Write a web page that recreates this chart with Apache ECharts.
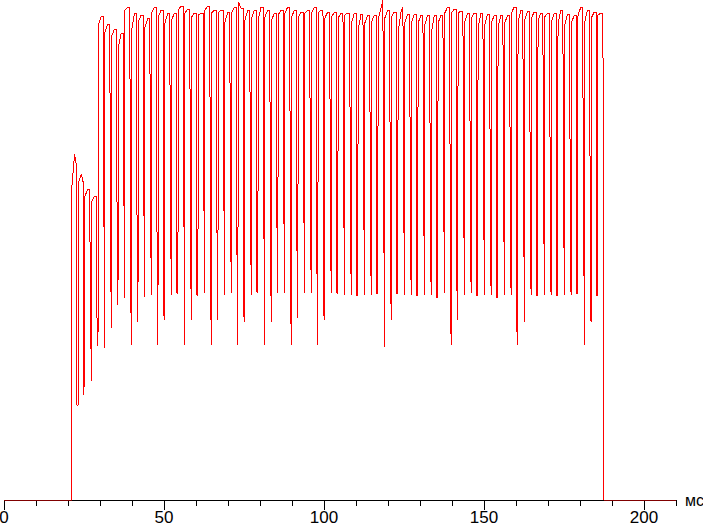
<!DOCTYPE html>
<html><head><meta charset="utf-8">
<script src="https://cdn.jsdelivr.net/npm/echarts@6/dist/echarts.min.js"></script>
<style>html,body{margin:0;padding:0;background:#fff}#c{width:703px;height:528px}#c path{shape-rendering:crispEdges}</style>
</head><body><div id="c"></div><script>
// Timing of the pulse train (ms)
const startMs = 21.15;     // first rise
const periodMs = 2.082;    // pulse period
const axisMaxMs = 210;
const xMajorTicks = [0, 50, 100, 150, 200];
// Per-cycle brightness levels (% of full scale)
const riseLevel = [
 62.2,63.4,60.8,59.6,95,93.6,92.8,90.4,98,94,
 95.6,94.6,97.4,96.6,95.4,96,98,97.4,96.6,97,
 98,97.4,97.4,95.6,97.4,99.6,96,96.4,96,96.6,
 96,97,97.4,96.6,96.4,97.4,97.4,97.4,96.4,96.6,
 96.4,97,95.4,94,95.4,95.6,96,96.4,96.6,93.6,
 95.4,95.4,95.4,95,93.6,95.4,97.4,97.4,97.4,95.6,
 96.4,94.4,95,95.4,94.6,95.4,97.4,95.6,96,96.4,
 96,96.6,95.6,95.4,95,95.4,97,95.6,96.4,97];
const peakLevel = [
 69.2,65.2,62.2,60.8,96.8,95.2,94.2,93.4,98.6,97.4,
 97,96.4,98.6,98,97.4,97.4,98.8,98.2,97.4,97.4,
 98.8,98,98,97.6,98.6,98.4,98,98,98.6,98,
 97.4,98,98.6,98,97.6,98,98.6,98,97.6,97.6,
 97.4,97.4,97.4,97.2,97,97,98.4,98,97.6,97.6,
 97.2,97.2,97,97,97,97,98.6,98.2,97.8,97.4,
 97.4,97.4,97.2,97,97,97,98.6,98,97.8,97.6,
 97.4,97.4,97.4,98,97.2,97,98.6,98,97.6,97.4];
const holdLevel = [
 66.8,63.6,62.2,60.8,96.8,95.2,94.2,93.4,98.6,97.4,
 97,96.4,98.6,98,97.4,97.4,98.8,98.2,97.4,97.4,
 98.8,98,98,97.6,98.6,98.4,98,98,98.6,98,
 97.4,98,98.6,98,97.6,98,98.6,98,97.6,97.6,
 97.4,97.4,97.4,97.2,97,97,100,98,97.6,98.6,
 97.2,97.2,97,97,97,97,98.6,98.2,97.8,97.4,
 97.4,97.4,97.2,97,97,97,98.6,98,97.8,97.6,
 97.4,97.4,97.4,98,97.2,97,98.6,98,97.6,97.4];
const dip1Level = [
 19,55.4,52,40,79,83,85,85,86.4,86,
 88.4,87.4,86,85.4,85.6,41.4,80.6,86.4,41,89,
 86.6,86,89.6,87.6,86,85.6,86.4,41.6,80.4,86.4,
 89.4,88,87,86,89.4,87.4,86,85.4,88,41.4,
 87.4,86,41,88.6,85.6,41.4,80.4,86.4,41.4,87.4,
 86,41,88.6,85.4,40.6,88,86.6,86,89.4,86.4,
 41,89,85.6,40.6,88.6,87.4,86,85,86.4,41,
 87.4,86,41,88.6,85.4,41.4,80.4,86.4,41,88.4];
const dip2Level = [
 19,21,37.6,33.6,56.6,51,40,60.6,45.6,37,
 59,58.6,32.4,37,59.4,41.4,58.4,52.6,41,61,
 45.6,37,61.6,59,32.4,37,59.4,41.6,58.4,52.6,
 42,59.4,45.6,37,60,59,32.4,37,59.4,41.4,
 60,59,41,59.6,58.6,41.4,58.4,52.6,41.4,60,
 58.6,41,59.6,58.6,40.6,61.4,45.6,37,60,59.4,
 41,60,58.6,40.6,59.6,58.6,32.4,59,59,41,
 60,58.6,41,59.6,58.6,41.4,58.4,52.4,41,0];
const lowLevel = [
 19,21,23.8,30.8,30.4,34.4,39,40.4,31,35.6,
 40.6,41,31,36,41,41.4,31,36,41,41.4,
 31,36,41,41.4,31,35.6,41,41.6,31,35.6,
 41.4,41.4,31,36.4,41.4,41.4,31,36,41.4,41.4,
 41,41,41,41,41,41.4,30.6,36,41.4,41,
 41,41,41,41,40.6,41.4,31,36,41,41.4,
 41,41,41,40.6,41,41,31,35.6,41,41,
 41,41,41,41,41,41.4,31,35.6,41,0];

const pts = [[0, 0], [startMs, 0]];
for (let k = 0; k < riseLevel.length; k++) {
  const t = startMs + k * periodMs;
  pts.push([t, riseLevel[k]]);
  pts.push([t + 0.9, peakLevel[k]]);
  pts.push([t + 1.5, holdLevel[k]]);
  pts.push([t + 1.56, dip1Level[k]]);
  pts.push([t + 1.76, dip2Level[k]]);
  pts.push([t + 1.98, lowLevel[k]]);
}
pts.push([axisMaxMs, 0]);

const chart = echarts.init(document.getElementById('c'), null, {renderer: 'svg'});
const font = 'Liberation Sans, Arial, sans-serif';
chart.setOption({
  animation: false,
  backgroundColor: '#fff',
  grid: [
    {left: 4, width: 672, top: 0, height: 500, containLabel: false, outerBoundsMode: 'none'},
    {left: 4, width: 640, top: 0, height: 500, containLabel: false, outerBoundsMode: 'none'}
  ],
  xAxis: [
    {gridIndex: 0, type: 'value', min: 0, max: axisMaxMs, interval: 10,
     axisLine: {show: true, lineStyle: {color: '#000', width: 1}},
     axisTick: {show: true, length: 6, lineStyle: {color: '#000'}},
     axisLabel: {show: false}, splitLine: {show: false},
     name: 'мс', nameLocation: 'end', nameGap: 9,
     nameTextStyle: {fontSize: 16, color: '#000', fontFamily: font, verticalAlign: 'middle'}},
    {gridIndex: 1, type: 'value', min: xMajorTicks[0], max: xMajorTicks[xMajorTicks.length - 1], interval: 50,
     axisLine: {show: false},
     axisTick: {show: true, length: 10, lineStyle: {color: '#000'}},
     axisLabel: {show: true, fontSize: 17, color: '#000', fontFamily: font, margin: 9},
     splitLine: {show: false}}
  ],
  yAxis: [
    {gridIndex: 0, type: 'value', min: 0, max: 100, show: false},
    {gridIndex: 1, type: 'value', min: 0, max: 100, show: false}
  ],
  series: [{
    type: 'line', xAxisIndex: 0, yAxisIndex: 0, data: pts,
    showSymbol: false, symbol: 'none', sampling: null, smooth: false,
    lineStyle: {color: '#ff0000', width: 1}, z: 5
  }]
});
</script></body></html>
